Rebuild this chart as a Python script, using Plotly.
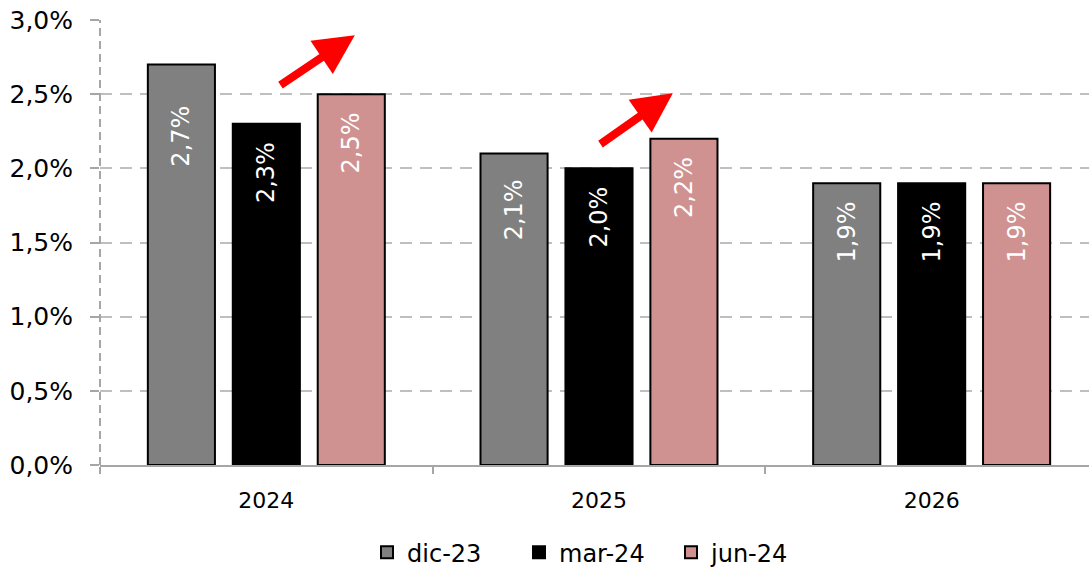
import plotly.graph_objects as go

# Forecast vintages and the years they refer to
years = ["2024", "2025", "2026"]
vintages = ["dic-23", "mar-24", "jun-24"]
forecasts = {
    "dic-23": [2.7, 2.1, 1.9],
    "mar-24": [2.3, 2.0, 1.9],
    "jun-24": [2.5, 2.2, 1.9],
}
y_ticks = [0.0, 0.5, 1.0, 1.5, 2.0, 2.5, 3.0]
y_tick_labels = ["0,0%", "0,5%", "1,0%", "1,5%", "2,0%", "2,5%", "3,0%"]

# Upward-revision arrows: (tail_x, tail_y, head_x, head_y) in axis units
revision_arrows = [
    (0.038, 2.554, 0.266, 2.898),
    (1.000, 2.156, 1.222, 2.507),
]

colors = {"dic-23": "#808080", "mar-24": "#000000", "jun-24": "#D09191"}
# space padding that pushes each value label down from the bar top
label_pad = {"dic-23": [5, 3, 2], "mar-24": [2, 2, 2], "jun-24": [2, 2, 2]}
FONT = "DejaVu Sans"
GRID = "#BFBFBF"
NBSP = "\u00a0"

fig = go.Figure()
for v in vintages:
    fig.add_trace(go.Bar(
        name=v, x=years, y=forecasts[v],
        marker=dict(color=colors[v], line=dict(color="#000000", width=2)),
        texttemplate=["%{y:.1f}%" + NBSP * n for n in label_pad[v]],
        textposition="inside", insidetextanchor="end",
        textangle=-90, textfont=dict(family=FONT, size=24, color="white"),
    ))

for tx, ty, hx, hy in revision_arrows:
    fig.add_annotation(
        x=hx, y=hy, ax=tx, ay=ty, xref="x", yref="y", axref="x", ayref="y",
        text="", showarrow=True, arrowhead=2, arrowsize=1.0, arrowwidth=8,
        arrowcolor="#FF0000", standoff=0,
    )

# Dashed vertical axis line
fig.add_shape(type="line", xref="paper", yref="y", x0=0, x1=0, y0=0, y1=3.0,
              line=dict(color="#A6A6A6", width=2, dash="8px,5px"), layer="above")

fig.update_layout(
    width=1089, height=570,
    margin=dict(l=100, r=0, t=20, b=105, autoexpand=False),
    paper_bgcolor="white", plot_bgcolor="white",
    barmode="group", bargap=0.234, bargroupgap=0.21,
    separators=",.",
    uniformtext=dict(minsize=24, mode="show"),
    font=dict(family=FONT, size=22, color="#000000"),
    showlegend=True,
    legend=dict(orientation="h", x=0.27, xanchor="left", y=-0.197, yanchor="middle",
                font=dict(family=FONT, size=24), itemwidth=30,
                traceorder="normal", entrywidth=107),
    xaxis=dict(
        type="category", range=[-0.5, 2.473], automargin=False,
        showline=True, linecolor="#A6A6A6", linewidth=2,
        ticks="outside", tickson="boundaries", ticklen=7, tickcolor="#A6A6A6",
        tickwidth=2, showgrid=False, tickfont=dict(size=22),
        ticklabelstandoff=15,
    ),
    yaxis=dict(
        range=[0, 3.0], tickvals=y_ticks, ticktext=y_tick_labels, automargin=False,
        showline=False, zeroline=False,
        showgrid=True, gridcolor=GRID, gridwidth=2, griddash="12px,8px",
        ticks="outside", ticklen=9, tickcolor="#A6A6A6", tickwidth=2,
        tickfont=dict(size=25), ticklabelstandoff=12,
    ),
)

fig.write_html("out.html")
